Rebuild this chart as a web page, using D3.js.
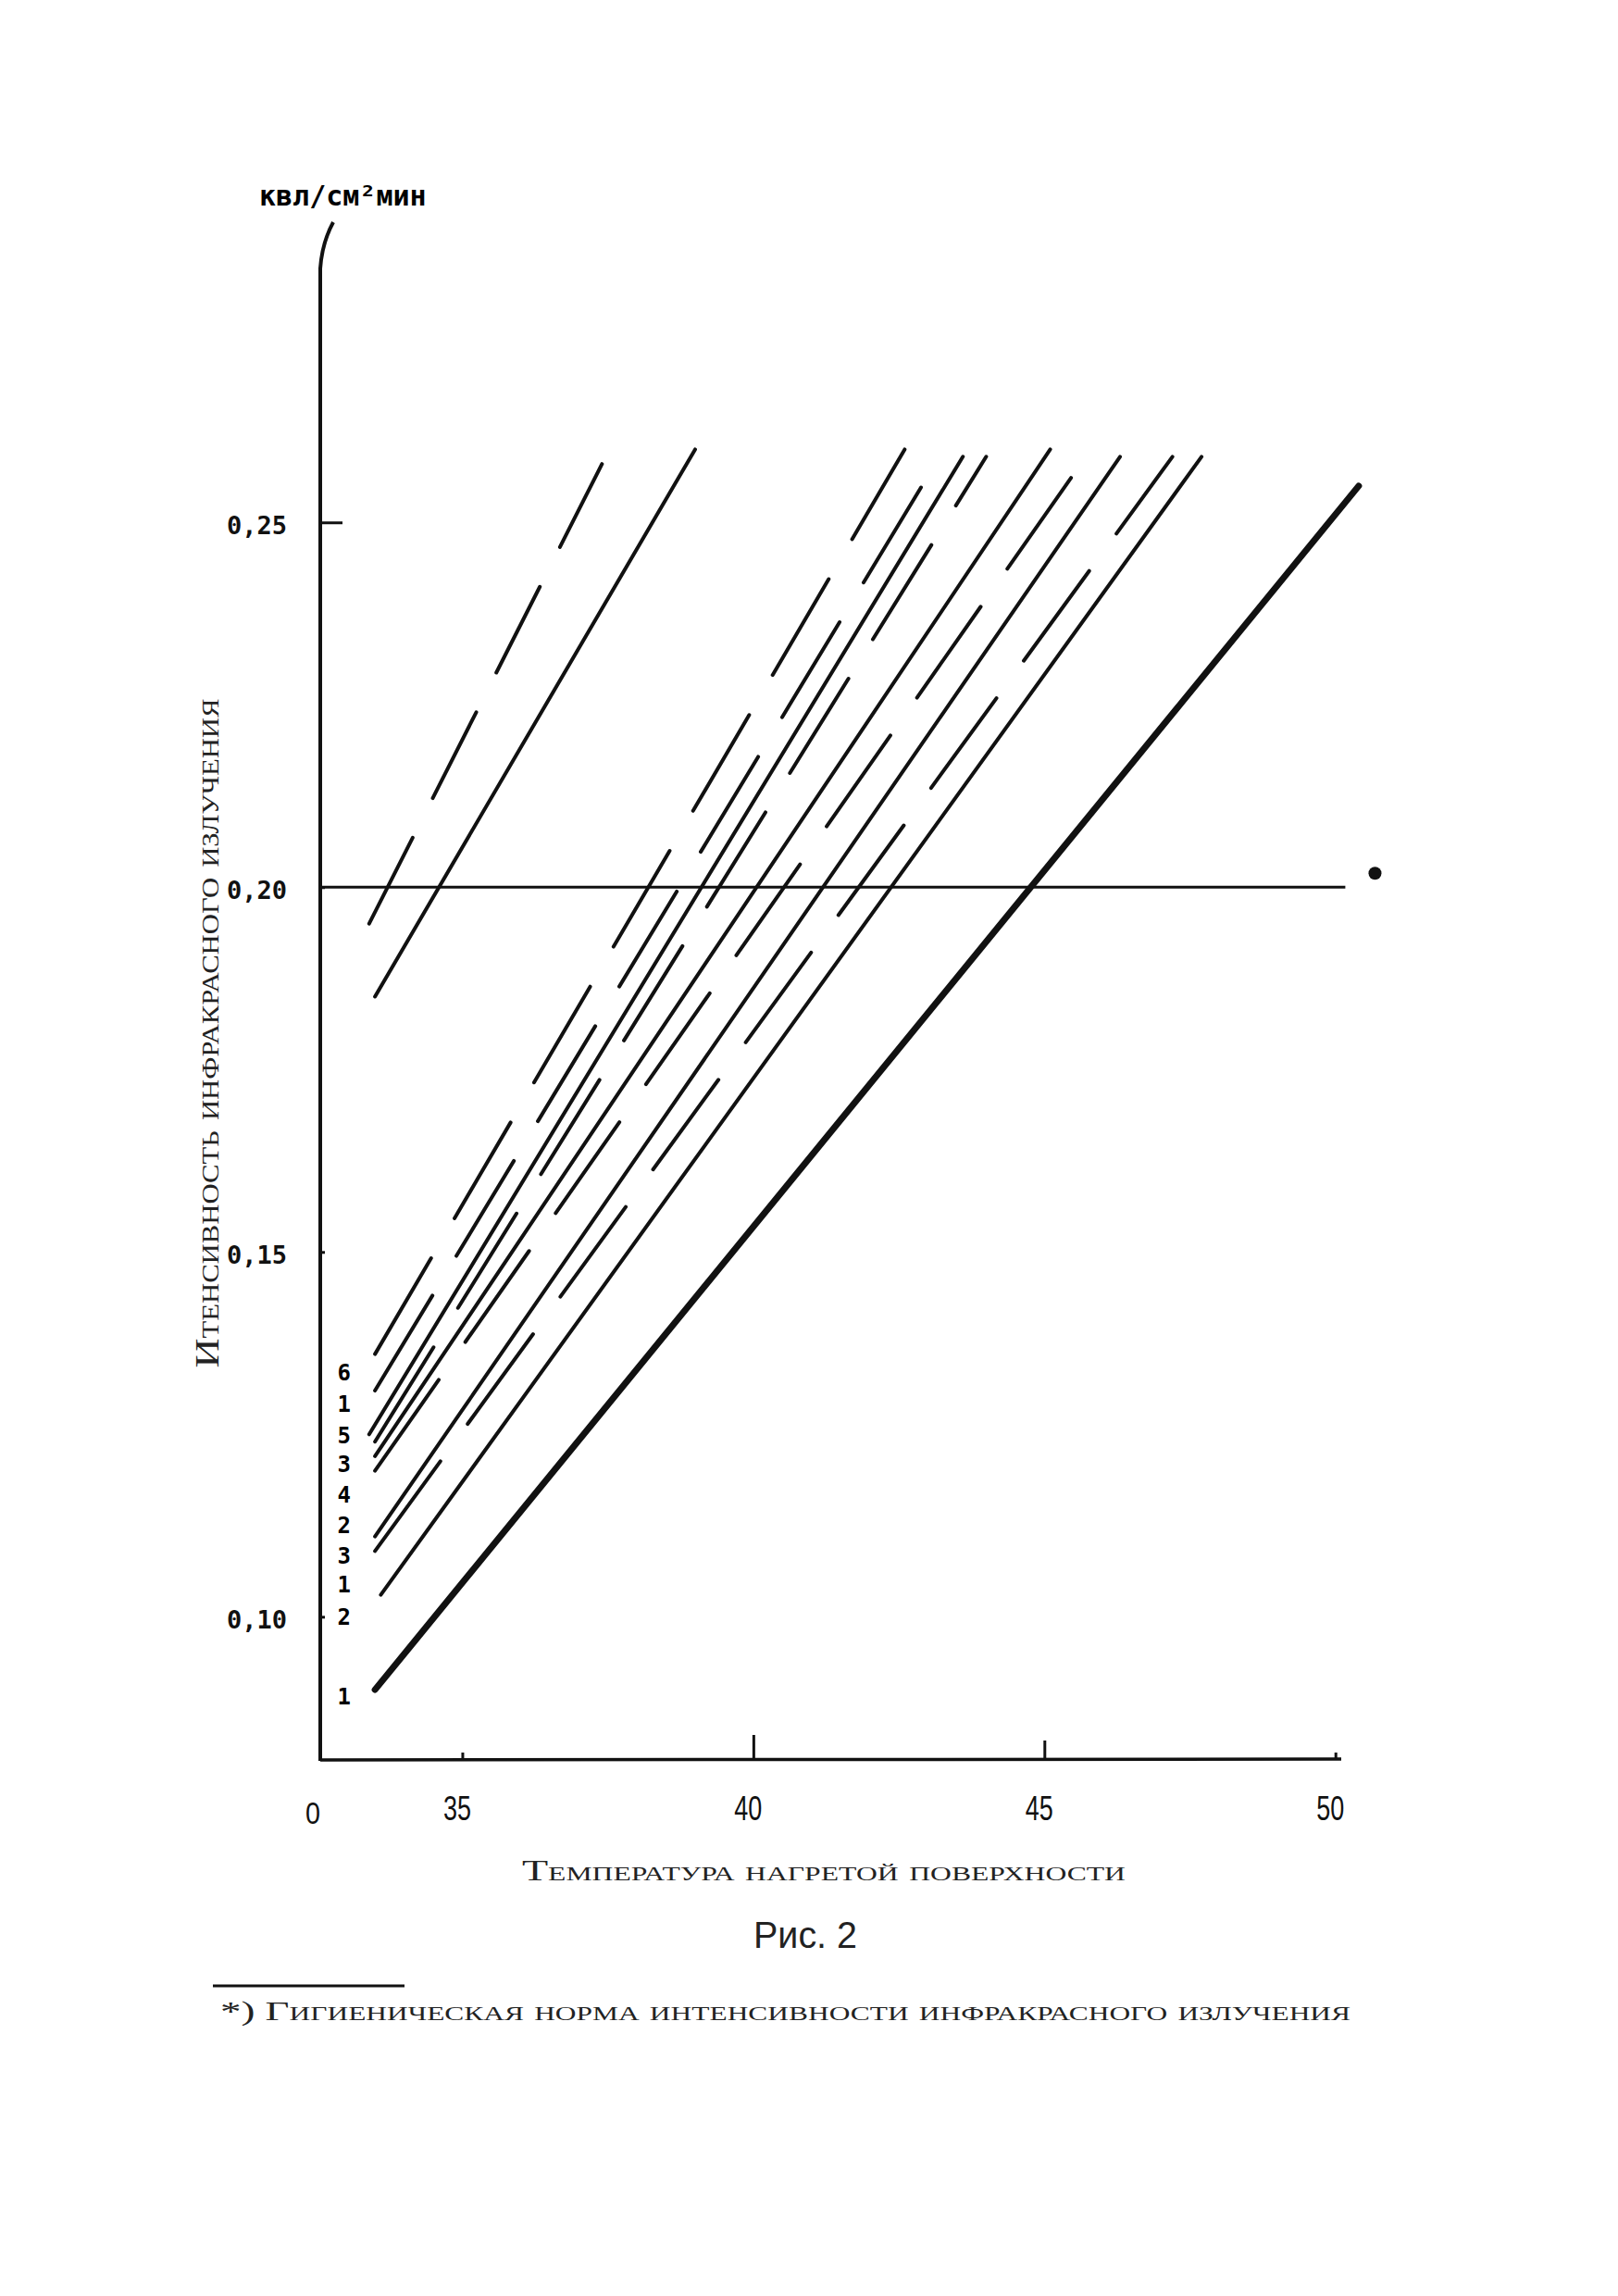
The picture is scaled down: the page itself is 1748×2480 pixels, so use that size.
<!DOCTYPE html>
<meta charset="utf-8">
<style>
body { margin: 0; background: #fff; }
.axis .domain { display: none; }
.serif { font-family: "Liberation Serif", "DejaVu Serif", serif; font-variant: small-caps; fill: #222; }
</style>
<svg width="1748" height="2480" id="chart"></svg>
<script src="https://cdn.jsdelivr.net/npm/d3@7"></script>
<script>
// ось X - температура нагретой поверхности, ось Y - интенсивность (кал/см2 мин)
var xTicks = [35, 40, 45, 50];
var yTicks = [0.10, 0.15, 0.20, 0.25];
var normValue = 0.20;

// прямые: начало (температура, интенсивность) и конец
var startT = [33.4, 33.5, 33.5, 33.5, 33.4, 33.5, 33.5, 33.5, 33.5, 33.5, 33.6, 33.5];
var startV = [0.195, 0.185, 0.136, 0.131, 0.125, 0.124, 0.122, 0.120, 0.111, 0.109, 0.103, 0.090];
var endT   = [37.4, 39.0, 42.6, 43.2, 43.6, 44.0, 45.1, 45.8, 46.3, 47.2, 47.7, 50.4];
var endV   = [0.258, 0.260, 0.260, 0.259, 0.259, 0.259, 0.260, 0.260, 0.259, 0.259, 0.259, 0.255];

// номера кривых слева
var curveNumbers = ["6", "1", "5", "3", "4", "2", "3", "1", "2", "1"];
var numberValues = [0.1335, 0.1291, 0.1249, 0.1209, 0.1167, 0.1125, 0.1084, 0.1044, 0.1000, 0.0891];

var svg = d3.select("#chart");
svg.append("rect").attr("width", 1748).attr("height", 2480).attr("fill", "#fff");

var x = d3.scaleLinear().domain([32.56, 50.1]).range([346, 1449]);
var y = d3.scaleLinear().domain([0.0805, 0.2848]).range([1900, 290]);

var dashed = [0, 2, 3, 5, 7, 9];
var fmt = function(d) { return d3.format(".2f")(d).replace(".", ","); };

// оси
svg.append("path")
    .attr("d", "M" + x(32.56) + "," + (y(0.0805) + 2) + "L" + x(32.56) + "," + y(0.2848) +
               "Q" + (x(32.56) + 2) + "," + (y(0.2848) - 28) + " " + (x(32.56) + 14) + "," + (y(0.2848) - 50))
    .attr("fill", "none").attr("stroke", "#111").attr("stroke-width", 4);

svg.append("line")
    .attr("x1", x(32.56)).attr("x2", x(50.1))
    .attr("y1", y(0.0805) + 1).attr("y2", y(0.0805))
    .attr("stroke", "#111").attr("stroke-width", 3.5);

var yAxis = svg.append("g")
    .attr("class", "axis")
    .attr("transform", "translate(" + x(32.56) + ",0)")
    .call(d3.axisLeft(y).tickValues(yTicks).tickSize(-24).tickPadding(36).tickFormat(fmt));
yAxis.selectAll(".tick line")
    .attr("stroke", "#111").attr("stroke-width", 3)
    .attr("x2", function(d) { return d === 0.25 ? 24 : 5; });
yAxis.selectAll(".tick text")
    .attr("fill", "#111")
    .attr("font-family", "'DejaVu Sans Mono', monospace")
    .attr("font-weight", "bold")
    .attr("font-size", 27)
    .attr("dy", "0.45em");

var xAxis = svg.append("g")
    .attr("class", "axis")
    .attr("transform", "translate(0," + y(0.0805) + ")")
    .call(d3.axisBottom(x).tickValues(xTicks).tickSize(-22).tickPadding(40));
xAxis.selectAll(".tick line")
    .attr("stroke", "#111").attr("stroke-width", 3)
    .attr("y2", function(d) { return d === 40 ? -26 : d === 45 ? -20 : -7; });
xAxis.selectAll(".tick text")
    .attr("fill", "#111")
    .attr("dx", -6)
    .attr("font-size", 36)
    .attr("font-family", "'Liberation Sans', sans-serif")
    .attr("textLength", 30)
    .attr("lengthAdjust", "spacingAndGlyphs");

svg.append("text")
    .attr("x", x(32.56) - 8).attr("y", y(0.0805) + 70)
    .attr("text-anchor", "middle")
    .attr("font-family", "'Liberation Sans', sans-serif")
    .attr("font-size", 34)
    .attr("textLength", 16)
    .attr("lengthAdjust", "spacingAndGlyphs")
    .attr("fill", "#111")
    .text("0");

// гигиеническая норма
svg.append("line")
    .attr("x1", x(32.56)).attr("x2", x(50.17))
    .attr("y1", y(normValue)).attr("y2", y(normValue))
    .attr("stroke", "#111").attr("stroke-width", 3);
svg.append("circle")
    .attr("cx", x(50.68)).attr("cy", y(0.2019)).attr("r", 7).attr("fill", "#111");

// кривые
svg.append("g")
  .selectAll("line")
  .data(d3.range(startT.length))
  .enter().append("line")
    .attr("x1", function(i) { return x(startT[i]); })
    .attr("y1", function(i) { return y(startV[i]); })
    .attr("x2", function(i) { return x(endT[i]); })
    .attr("y2", function(i) { return y(endV[i]); })
    .attr("stroke", "#111")
    .attr("stroke-linecap", "round")
    .attr("stroke-width", function(i) { return i === startT.length - 1 ? 7 : 4; })
    .attr("stroke-dasharray", function(i) {
        if (dashed.indexOf(i) < 0) return null;
        return i === 0 ? "104,48" : "120,50";
    });

svg.append("g")
  .selectAll("text")
  .data(curveNumbers)
  .enter().append("text")
    .attr("x", x(32.97))
    .attr("y", function(d, i) { return y(numberValues[i]); })
    .attr("dy", "0.35em")
    .attr("text-anchor", "middle")
    .attr("font-family", "'DejaVu Sans Mono', monospace")
    .attr("font-weight", "bold")
    .attr("font-size", 24)
    .text(function(d) { return d; });

// подписи
svg.append("text")
    .attr("x", 280).attr("y", 222)
    .attr("font-family", "'DejaVu Sans Mono', monospace")
    .attr("font-weight", "bold")
    .attr("font-size", 30)
    .text("квл/см²мин");

svg.append("text")
    .attr("class", "serif")
    .attr("transform", "translate(236,1116) rotate(-90)")
    .attr("text-anchor", "middle")
    .attr("font-size", 36)
    .attr("textLength", 723)
    .attr("lengthAdjust", "spacingAndGlyphs")
    .text("Итенсивность инфракрасного излучения");

svg.append("text")
    .attr("class", "serif")
    .attr("x", 890).attr("y", 2031)
    .attr("text-anchor", "middle")
    .attr("font-size", 32)
    .attr("textLength", 652)
    .attr("lengthAdjust", "spacingAndGlyphs")
    .text("Температура нагретой поверхности");

svg.append("text")
    .attr("x", 870).attr("y", 2104)
    .attr("text-anchor", "middle")
    .attr("font-family", "'Liberation Sans', sans-serif")
    .attr("font-size", 40)
    .attr("textLength", 112)
    .attr("lengthAdjust", "spacingAndGlyphs")
    .attr("fill", "#222")
    .text("Рис. 2");

svg.append("line")
    .attr("x1", 230).attr("x2", 437).attr("y1", 2145).attr("y2", 2145)
    .attr("stroke", "#111").attr("stroke-width", 3);

svg.append("text")
    .attr("class", "serif")
    .attr("x", 238).attr("y", 2182)
    .attr("font-size", 30)
    .attr("textLength", 1221)
    .attr("lengthAdjust", "spacingAndGlyphs")
    .text("*) Гигиеническая норма интенсивности инфракрасного излучения");
</script>
